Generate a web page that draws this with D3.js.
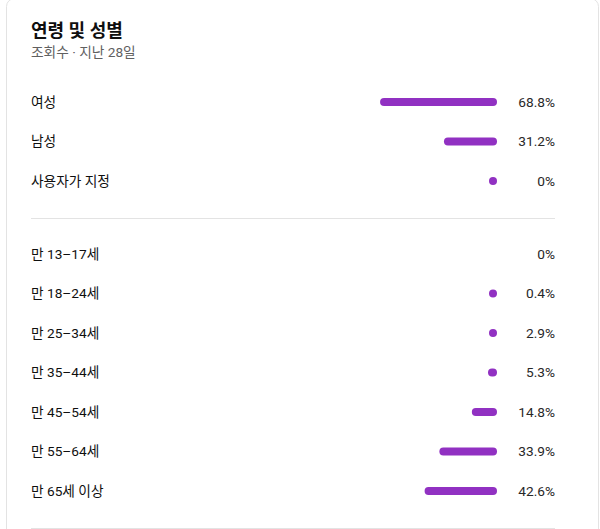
<!DOCTYPE html>
<html><head><meta charset="utf-8">
<script src="https://cdn.jsdelivr.net/npm/d3@7"></script>
<style>
html,body{margin:0;padding:0;background:#fff;}
svg{display:block;font-family:Roboto,"Noto Sans CJK KR",sans-serif;}
</style></head>
<body><svg id="c" width="600" height="529"></svg>
<script>
const title = "연령 및 성별";
const subtitle = "조회수 · 지난 28일";
const genderLabels = ["여성", "남성", "사용자가 지정"];
const genderValues = [68.8, 31.2, 0];
const genderText = ["68.8%", "31.2%", "0%"];
const ageLabels = ["만 13–17세", "만 18–24세", "만 25–34세", "만 35–44세", "만 45–54세", "만 55–64세", "만 65세 이상"];
const ageValues = [0, 0.4, 2.9, 5.3, 14.8, 33.9, 42.6];
const ageText = ["0%", "0.4%", "2.9%", "5.3%", "14.8%", "33.9%", "42.6%"];

const svg = d3.select("#c");
const color = "#9131c2";
const barRight = 497, barH = 8;
const x = d3.scaleLinear().domain([0, 100]).range([0, 170]);

// card
svg.append("rect").attr("x", 6.5).attr("y", -1.5).attr("width", 592).attr("height", 545)
  .attr("rx", 8).attr("fill", "#fff").attr("stroke", "#e3e3e3");

svg.append("text").attr("x", 31).attr("y", 37).attr("font-size", 18).attr("font-weight", 700)
  .attr("fill", "#0f0f0f").text(title);
svg.append("text").attr("x", 31).attr("y", 57).attr("font-size", 13.7)
  .attr("fill", "#606060").text(subtitle);

function group(labels, values, texts, y0, step, drawZero) {
  const yScale = d3.scalePoint().domain(labels).range([y0, y0 + step * (labels.length - 1)]);
  const g = svg.append("g");
  labels.forEach((l, i) => {
    const y = yScale(l);
    g.append("text").attr("x", 31).attr("y", y).attr("dy", "0.35em").attr("font-size", 13.7)
      .attr("fill", "#0f0f0f").text(l);
    g.append("text").attr("x", 555).attr("y", y).attr("dy", "0.35em").attr("font-size", 13.7)
      .attr("text-anchor", "end").attr("fill", "#282828").text(texts[i]);
    if (values[i] > 0 || drawZero) {
      const w = Math.max(barH, x(values[i]));
      g.append("rect").attr("x", barRight - w).attr("y", y - barH / 2)
        .attr("width", w).attr("height", barH).attr("rx", barH / 2).attr("fill", color);
    }
  });
}
group(genderLabels, genderValues, genderText, 102, 39.5, true);
svg.append("line").attr("x1", 31).attr("x2", 555).attr("y1", 218.5).attr("y2", 218.5)
  .attr("stroke", "#e3e3e3");
group(ageLabels, ageValues, ageText, 254, 39.5, false);
svg.append("line").attr("x1", 31).attr("x2", 555).attr("y1", 528.5).attr("y2", 528.5)
  .attr("stroke", "#e3e3e3");
</script></body></html>
